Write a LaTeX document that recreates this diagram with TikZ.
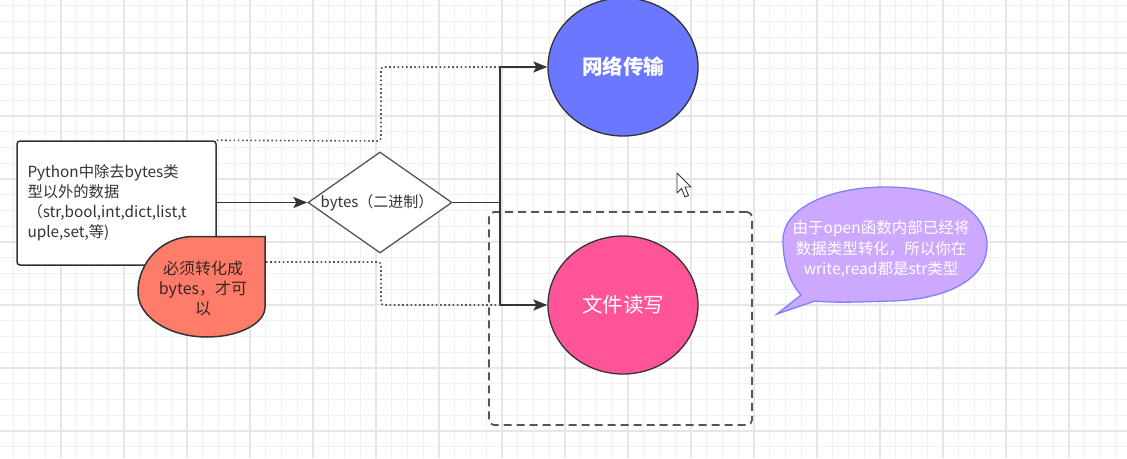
\documentclass[tikz,border=0pt]{standalone}
\usepackage{fontspec}
\setmainfont{Noto Sans CJK SC}
\usetikzlibrary{shapes.geometric,arrows.meta}
\definecolor{ink}{HTML}{333333}
\definecolor{edge}{HTML}{555555}
\definecolor{gridminor}{HTML}{F0F0F0}
\definecolor{gridmajor}{HTML}{E6E6E6}
\definecolor{netblue}{HTML}{6B77FF}
\definecolor{filepink}{HTML}{FF5498}
\definecolor{warnred}{HTML}{FF7B6A}
\definecolor{notefill}{HTML}{CCA9FF}
\definecolor{noteedge}{HTML}{8080FF}
\begin{document}
\begin{tikzpicture}[x=1pt,y=-1pt,
  gminor/.style={draw=gridminor,line width=0.9pt},
  gmajor/.style={draw=gridmajor,line width=1.4pt},
  databox/.style={draw=ink,line width=1.5pt,rounded corners=3pt,fill=white,
    minimum width=199pt,minimum height=124pt,text width=178pt,align=left,
    inner sep=0pt,text=ink,font=\fontsize{15.3}{20}\selectfont},
  decision/.style={diamond,draw=edge,line width=1.3pt,fill=white,
    minimum width=144pt,minimum height=101pt,inner sep=0pt},
  target/.style={ellipse,draw=ink,line width=1.3pt,minimum width=150pt,
    minimum height=138pt,inner sep=0pt,text=white,font=\fontsize{20.5}{24}\selectfont},
  groupbox/.style={draw=edge,line width=1.8pt,dash pattern=on 8pt off 5pt,
    rounded corners=5pt,minimum width=263pt,minimum height=213pt,inner sep=0pt},
  flow/.style={draw=ink,line width=1.7pt,-{Stealth[length=14pt,width=11pt,inset=3pt]}},
  plain/.style={draw=ink,line width=1.7pt},
  dotline/.style={draw=edge,line width=1.6pt,dash pattern=on 1.6pt off 2.6pt,rounded corners=3pt},
  label/.style={inner sep=0pt,align=center}]
\useasboundingbox (0,0) rectangle (1127,458);
\fill[white] (0,0) rectangle (1127,458);
% squared paper
\foreach \i in {0,...,71} \draw[gminor] ({13.75+15.75*\i},0) -- ++(0,458);
\foreach \i in {0,...,29} \draw[gminor] (0,{5.75+15.75*\i}) -- ++(1127,0);
\foreach \i in {0,...,17} \draw[gmajor] ({-2+63*\i},0) -- ++(0,458);
\foreach \i in {0,...,7} \draw[gmajor] (0,{-10+63*\i}) -- ++(1127,0);

% dashed group around file I/O
\node[groupbox] (grp) at (620.5,318.5) {};

% source data box
\node[databox] (src) at (116.5,203) {Python中除去bytes类\\型以外的数据\\（str,bool,int,dict,list,t\\uple,set,等)};

% decision diamond
\node[decision] (dia) at (380,202.5) {};
\node[label,text=ink,font=\fontsize{15}{18}\selectfont] (dialbl) at (377,203) {bytes（二进制）};

% targets
\node[target,fill=netblue,font=\fontsize{20.5}{24}\selectfont\bfseries] (net) at (623,67) {网络传输};
\node[target,fill=filepink] (file) at (623,305) {文件读写};

% branching connectors
\coordinate (jn) at (500,202.5);
\draw[plain] (dia.east) -- (jn);
\draw[flow] (jn) |- (net.west);
\draw[flow] (jn) |- (file.west);
\draw[flow] (src.east |- dia.west) -- (dia.west);

% dotted guides
\coordinate (up1) at (381,141);
\coordinate (up2) at (381,67);
\coordinate (upend) at (500,67);
\draw[dotline] (src.north east) -- (up1) -- (up2) -- (upend);
\coordinate (warnr) at (266,262);
\coordinate (lo1) at (381,262);
\coordinate (lo2) at (381,305);
\coordinate (loend) at (500,305);
\draw[dotline] (warnr) -- (lo1) -- (lo2) -- (loend);

% warning tag with one square corner
\draw[draw=ink,line width=1.5pt,fill=warnred,line join=miter]
  (265,236.5) -- (265,307)
  .. controls (265,323.5) and (239,337) .. (207,337)
  .. controls (169,337) and (138,317) .. (138,292)
  .. controls (138,261.5) and (163,236.5) .. (193,236.5) -- cycle;
\node[label,text=ink!80!warnred!60!black,font=\fontsize{16}{20}\selectfont] (warn) at (203,288) {必须转化成\\bytes，才可\\以};

% speech bubble note
\draw[draw=noteedge,line width=1.3pt,fill=notefill]
  (885,187) .. controls (950,187) and (987,212) .. (987,245)
  .. controls (987,280) and (945,300) .. (890,301)
  .. controls (860,302) and (835,303) .. (815,301)
  -- (777,314) -- (801,295)
  .. controls (789,282) and (783,262) .. (783,240)
  .. controls (783,208) and (830,187) .. (885,187) -- cycle;
\node[label,text=white,font=\fontsize{15.5}{20.5}\selectfont] (note) at (881,249) {由于open函数内部已经将\\数据类型转化，所以你在\\write,read都是str类型};

% mouse pointer
\draw[draw=ink,line width=0.9pt,fill=white,line join=round]
  (677,173) -- (677,193) -- (681.5,188.5) -- (685,197) -- (688.5,195.5) -- (685,187) -- (691,187) -- cycle;
\end{tikzpicture}
\end{document}
